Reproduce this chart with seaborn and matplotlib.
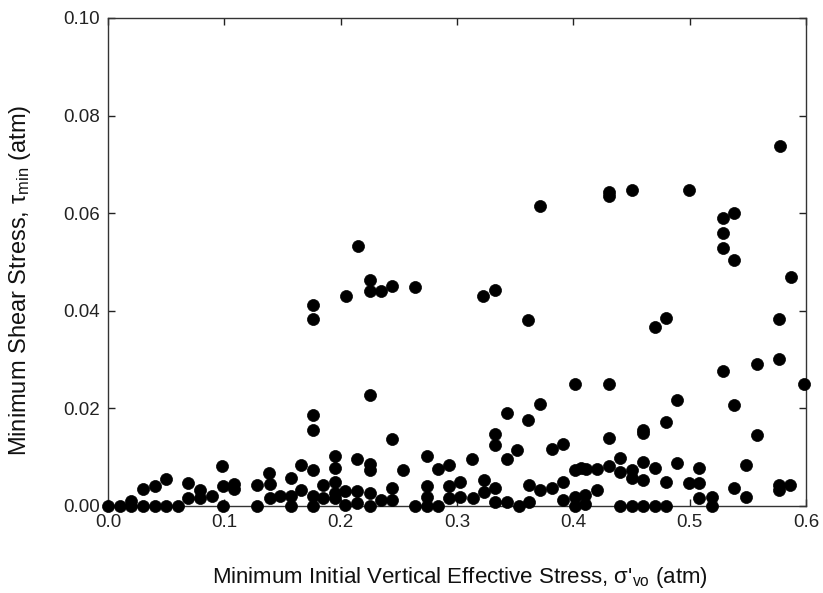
import matplotlib
matplotlib.use("Agg")
import matplotlib.pyplot as plt
import seaborn as sns
import pandas as pd

# Minimum initial vertical effective stress (atm)
sigma_vo = [
    0.0, 0.01, 0.02, 0.02, 0.03, 0.03, 0.04, 0.04, 0.05, 0.05,
    0.06, 0.069, 0.069, 0.079, 0.079, 0.089, 0.098, 0.099, 0.099, 0.108,
    0.108, 0.128, 0.128, 0.138, 0.139, 0.139, 0.148, 0.157, 0.157, 0.157,
    0.166, 0.166, 0.1765, 0.1765, 0.1765, 0.1765, 0.1765, 0.1765, 0.1765, 0.185,
    0.185, 0.195, 0.195, 0.195, 0.195, 0.195, 0.204, 0.204, 0.205, 0.214,
    0.214, 0.2137, 0.215, 0.225, 0.225, 0.225, 0.225, 0.225, 0.225, 0.225,
    0.235, 0.235, 0.244, 0.244, 0.244, 0.244, 0.254, 0.264, 0.264, 0.274,
    0.274, 0.274, 0.274, 0.284, 0.284, 0.293, 0.293, 0.293, 0.303, 0.303,
    0.3127, 0.3135, 0.3227, 0.3233, 0.3233, 0.333, 0.333, 0.333, 0.333, 0.333,
    0.343, 0.343, 0.343, 0.352, 0.353, 0.361, 0.361, 0.362, 0.362, 0.3715,
    0.3715, 0.3715, 0.3815, 0.3815, 0.3915, 0.3915, 0.3915, 0.4015, 0.4015, 0.4015,
    0.4015, 0.407, 0.411, 0.41, 0.41, 0.420, 0.420, 0.431, 0.431, 0.431,
    0.431, 0.431, 0.440, 0.440, 0.440, 0.450, 0.450, 0.450, 0.450, 0.4597,
    0.4597, 0.4597, 0.4597, 0.4597, 0.470, 0.470, 0.470, 0.480, 0.480, 0.480,
    0.480, 0.489, 0.489, 0.499, 0.499, 0.508, 0.508, 0.508, 0.519, 0.519,
    0.5285, 0.529, 0.529, 0.529, 0.538, 0.538, 0.5377, 0.5377, 0.5486, 0.5486,
    0.5577, 0.558, 0.5778, 0.577, 0.577, 0.577, 0.577, 0.587, 0.5865, 0.598,
]

# Minimum shear stress (atm)
tau_min = [
    0.0, 0.0, 0.001, 0.0, 0.0, 0.0035, 0.0, 0.004, 0.0, 0.0055,
    0.0, 0.0048, 0.0016, 0.0033, 0.0016, 0.002, 0.0082, 0.0041, 0.0, 0.0046,
    0.0035, 0.0043, 0.0, 0.0067, 0.0046, 0.0016, 0.002, 0.0057, 0.002, 0.0,
    0.0084, 0.0033, 0.0412, 0.0383, 0.0186, 0.0155, 0.0074, 0.002, 0.0, 0.0043,
    0.0016, 0.0103, 0.0078, 0.005, 0.0027, 0.0016, 0.003, 0.0002, 0.043, 0.003,
    0.0006, 0.0096, 0.0533, 0.0463, 0.0441, 0.0227, 0.0087, 0.0074, 0.0027, 0.0,
    0.0441, 0.0012, 0.0451, 0.0137, 0.0037, 0.0012, 0.0073, 0.0448, 0.0, 0.0103,
    0.004, 0.0018, 0.0, 0.0075, 0.0, 0.0084, 0.004, 0.0016, 0.005, 0.0018,
    0.0096, 0.0016, 0.043, 0.0053, 0.0029, 0.0443, 0.0147, 0.0125, 0.0036, 0.0009,
    0.019, 0.0097, 0.0009, 0.0114, 0.0, 0.0381, 0.0177, 0.0043, 0.0009, 0.0615,
    0.021, 0.0033, 0.0117, 0.0036, 0.0127, 0.005, 0.0012, 0.025, 0.0074, 0.0019,
    0.0, 0.0077, 0.0075, 0.0023, 0.0004, 0.0075, 0.0033, 0.0644, 0.0635, 0.025,
    0.0139, 0.0081, 0.0098, 0.007, 0.0, 0.0648, 0.0074, 0.0057, 0.0, 0.0156,
    0.0149, 0.0091, 0.0054, 0.0, 0.0367, 0.0077, 0.0, 0.0385, 0.0173, 0.005,
    0.0, 0.0217, 0.0089, 0.0648, 0.0048, 0.0077, 0.0048, 0.0016, 0.0019, 0.0,
    0.059, 0.0559, 0.0528, 0.0277, 0.0601, 0.0504, 0.0207, 0.0036, 0.0084, 0.0018,
    0.0145, 0.0291, 0.0738, 0.0383, 0.0302, 0.0043, 0.0033, 0.0469, 0.0043, 0.025,
]

x_ticks = [0.0, 0.1, 0.2, 0.3, 0.4, 0.5, 0.6]
y_ticks = [0.00, 0.02, 0.04, 0.06, 0.08, 0.10]

df = pd.DataFrame({"sigma": sigma_vo, "tau": tau_min})

sns.set_style("ticks")
plt.rcParams["font.family"] = ["Liberation Sans", "DejaVu Sans"]
plt.rcParams["mathtext.fontset"] = "custom"
plt.rcParams["mathtext.rm"] = "Liberation Sans"
plt.rcParams["mathtext.it"] = "Liberation Sans:italic"

fig = plt.figure(figsize=(8.23, 5.93), dpi=100)
ax = fig.add_axes([108 / 823, 87 / 593, 698 / 823, 488 / 593])

sns.scatterplot(data=df, x="sigma", y="tau", ax=ax, color="black",
                s=75, edgecolor="black", linewidth=0.5, clip_on=False, zorder=3)

ax.set_xlim(0, 0.6)
ax.set_ylim(0, 0.10)
ax.set_xticks(x_ticks)
ax.set_xticklabels([f"{t:.1f}" for t in x_ticks])
ax.set_yticks(y_ticks)
ax.set_yticklabels([f"{t:.2f}" for t in y_ticks])
ax.tick_params(direction="in", length=5, width=1, top=True, right=True,
               labelsize=13.5, colors="#222222")
ax.tick_params(axis="x", pad=6)
ax.tick_params(axis="y", pad=6)
for sp in ax.spines.values():
    sp.set_linewidth(1.0)
    sp.set_color("#333333")

ax.set_xlabel(r"Minimum Initial Vertical Effective Stress, σ'$_{\mathrm{vo}}$ (atm)",
              fontsize=16, color="#111111")
ax.set_ylabel(r"Minimum Shear Stress, τ$_{\mathrm{min}}$ (atm)",
              fontsize=17, color="#111111")
ax.xaxis.set_label_coords(0.504, -0.12)
ax.yaxis.set_label_coords(-0.107, 0.463)

fig.savefig("out.png", dpi=100, facecolor="white")
